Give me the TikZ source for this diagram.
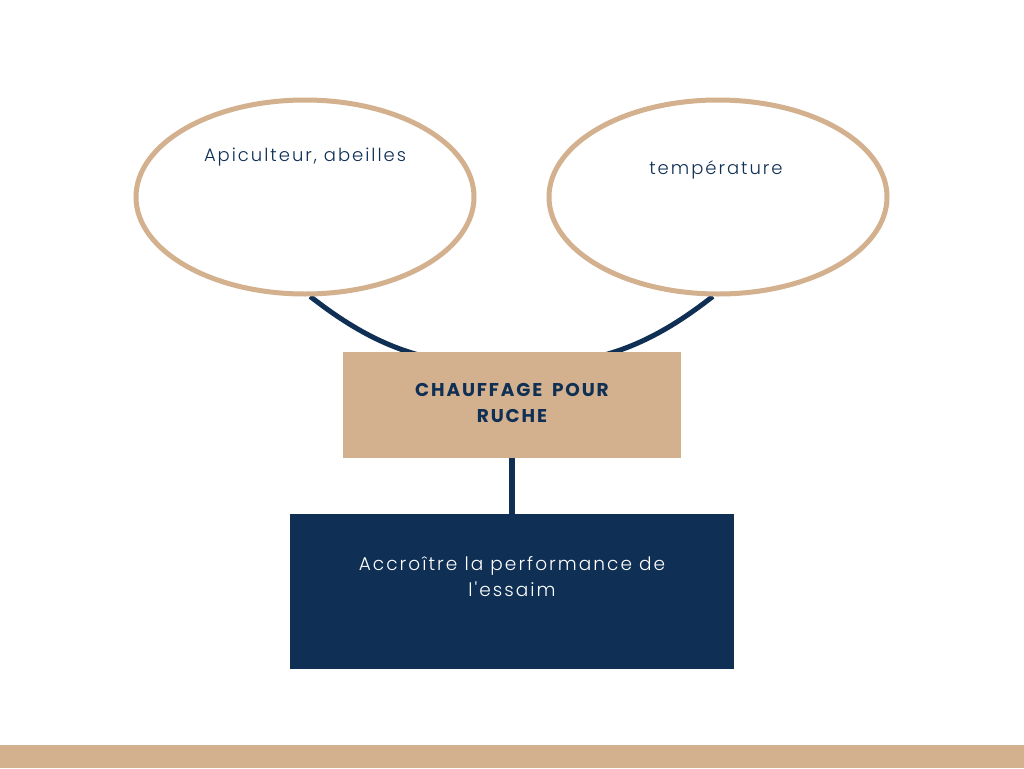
\documentclass[tikz,border=0pt]{standalone}
\usepackage{fontspec}
\setmainfont{Poppins}
\newfontfamily\bodyfont{Poppins Light}[LetterSpace=11]
\newfontfamily\headfont{Poppins}[LetterSpace=10]
\usetikzlibrary{shapes.geometric,calc}
\definecolor{tan}{HTML}{D3B08E}
\definecolor{navy}{HTML}{0F2F55}
\pgfdeclarelayer{bg}
\pgfsetlayers{bg,main}
\tikzset{
  oval/.style={ellipse, draw=tan, line width=5pt, minimum width=338pt, minimum height=194pt, inner sep=0pt},
  ovaltext/.style={font=\bodyfont\fontsize{18}{26}\selectfont, text=navy, align=center},
  headbox/.style={rectangle, fill=tan, minimum width=338pt, minimum height=106pt, inner sep=0pt},
  goalbox/.style={rectangle, fill=navy, minimum width=444pt, minimum height=155pt, inner sep=0pt},
  link/.style={draw=navy, line width=5pt}
}
\begin{document}
\begin{tikzpicture}[x=1pt,y=-1pt]
\useasboundingbox (0,0) rectangle (1024,768);
\fill[tan] (0,745) rectangle (1024,768);
\node[oval] (e1) at (305,197) {};
\node[oval] (e2) at (718,197) {};
\node[ovaltext] (t1) at (305,157) {Apiculteur, abeilles};
\node[ovaltext] (t2) at (716,170) {température};
\node[headbox] (box) at (512,405) {};
\node[font=\headfont\bfseries\fontsize{18.5}{26}\selectfont, text=navy, align=center] (bt) at (512,403) {CHAUFFAGE\hspace{4pt} POUR\\RUCHE};
\node[goalbox] (goal) at (512,591.5) {};
\node[font=\bodyfont\fontsize{18.5}{26}\selectfont, text=white, align=center] (gt) at (512,577) {Accroître la performance de\\l'essaim};
\coordinate (arcbot) at ($(box.center)+(0,-39)$);
\begin{pgfonlayer}{bg}
\fill[white] (0,0) rectangle (1024,745);
\draw[link] (e1.-87) to[out=-38,in=180] (arcbot);
\draw[link] (e2.-93) to[out=-142,in=0] (arcbot);
\end{pgfonlayer}
\draw[navy, line width=6pt] (box.south) -- (goal.north);
\end{tikzpicture}
\end{document}
